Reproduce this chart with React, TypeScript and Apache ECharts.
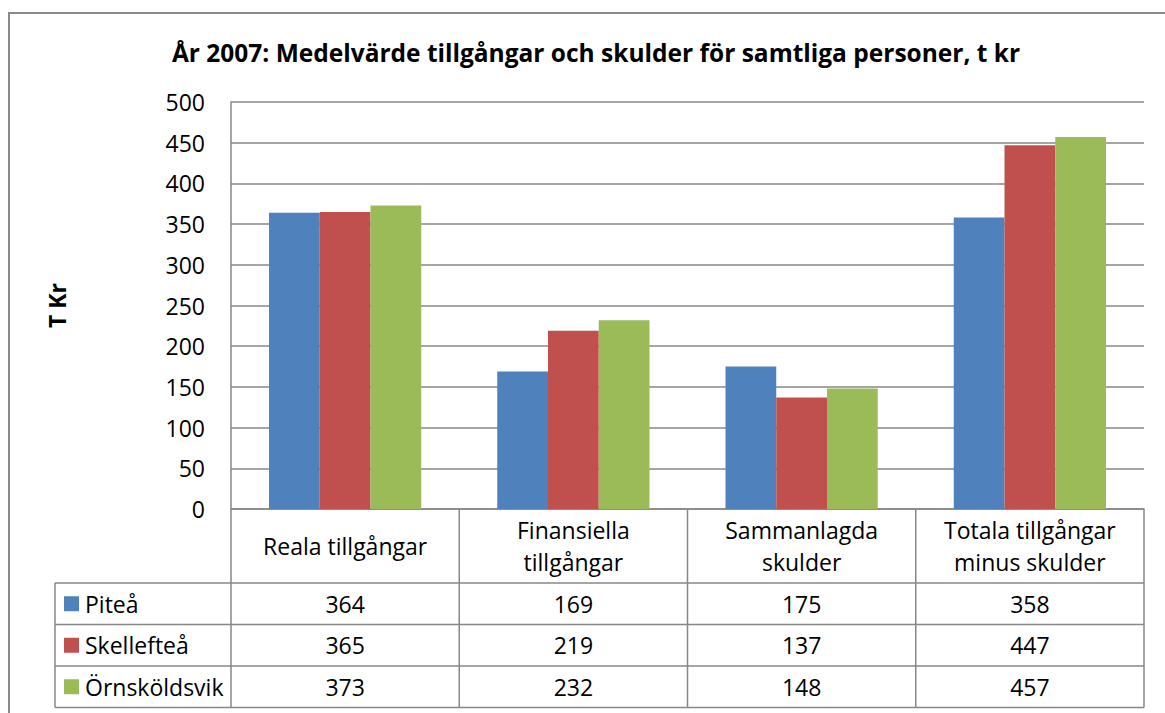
import React, { useEffect, useRef } from "react";
import * as echarts from "echarts";

const title = "År 2007: Medelvärde tillgångar och skulder för samtliga personer, t kr";
const yAxisName = "T Kr";
const categories = ["Reala tillgångar", "Finansiella\ntillgångar", "Sammanlagda\nskulder", "Totala tillgångar\nminus skulder"];
const seriesNames = ["Piteå", "Skellefteå", "Örnsköldsvik"];
const pitea = [364, 169, 175, 358];
const skelleftea = [365, 219, 137, 447];
const ornskoldsvik = [373, 232, 148, 457];
const colors = ["#4F81BD", "#C0504D", "#9BBB59"];

const FONT = "'Open Sans', 'Noto Sans', sans-serif";
const FS = 23;
const GRID_COLOR = "#878787";

export default function App() {
  const ref = useRef<HTMLDivElement>(null);
  useEffect(() => {
    if (!ref.current) return;
    const chart = echarts.init(ref.current, undefined, { renderer: "svg" });
    const GL = 231, GR = 1144, GT = 102, GB = 509;
    const tableLeft = 55;
    const rowLines = [583, 624.5, 666, 707.5];
    const colW = (GR - GL) / categories.length;
    const allSeries = [pitea, skelleftea, ornskoldsvik];

    const graphic: any[] = [];
    graphic.push({
      type: "rect",
      shape: { x: 9, y: 13, width: 1200, height: 800 },
      style: { fill: "none", stroke: "#8a8a8a", lineWidth: 2 },
      silent: true,
    });
    for (let i = 0; i <= categories.length; i++) {
      const x = GL + i * colW;
      graphic.push({
        type: "line",
        shape: { x1: x, y1: GB, x2: x, y2: rowLines[rowLines.length - 1] },
        style: { stroke: GRID_COLOR, lineWidth: 1.5 },
        silent: true,
      });
    }
    graphic.push({
      type: "line",
      shape: { x1: tableLeft, y1: rowLines[0], x2: tableLeft, y2: rowLines[rowLines.length - 1] },
      style: { stroke: GRID_COLOR, lineWidth: 1.5 },
      silent: true,
    });
    rowLines.forEach((y) => {
      graphic.push({
        type: "line",
        shape: { x1: tableLeft, y1: y, x2: GR, y2: y },
        style: { stroke: GRID_COLOR, lineWidth: 1.5 },
        silent: true,
      });
    });
    allSeries.forEach((vals, r) => {
      const cy = (rowLines[r] + rowLines[r + 1]) / 2;
      graphic.push({
        type: "rect",
        shape: { x: 64, y: cy - 7.5, width: 15, height: 15 },
        style: { fill: colors[r] },
        silent: true,
      });
      graphic.push({
        type: "text",
        x: 85,
        y: cy,
        style: { text: seriesNames[r], fontFamily: FONT, fontSize: FS, fill: "#000", verticalAlign: "middle", align: "left" },
        silent: true,
      });
      vals.forEach((v, c) => {
        graphic.push({
          type: "text",
          x: GL + (c + 0.5) * colW,
          y: cy,
          style: { text: String(v), fontFamily: FONT, fontSize: FS, fill: "#000", verticalAlign: "middle", align: "center" },
          silent: true,
        });
      });
    });

    chart.setOption({
      animation: false,
      backgroundColor: "#fff",
      title: {
        text: title,
        left: 591,
        textAlign: "center",
        top: 35,
        textStyle: { fontFamily: FONT, fontSize: 24.5, fontWeight: "bold", color: "#000" },
      },
      grid: { left: GL, right: 1165 - GR, top: GT, bottom: 713 - GB, containLabel: false },
      xAxis: {
        type: "category",
        data: categories,
        axisLine: { show: true, lineStyle: { color: GRID_COLOR, width: 1.5 } },
        axisTick: { show: false },
        axisLabel: {
          interval: 0,
          margin: 37,
          verticalAlign: "middle",
          fontFamily: FONT,
          fontSize: FS,
          lineHeight: 32,
          color: "#000",
        },
      },
      yAxis: {
        type: "value",
        min: 0,
        max: 500,
        interval: 50,
        name: yAxisName,
        nameLocation: "middle",
        nameRotate: 90,
        nameGap: 163,
        nameTextStyle: { fontFamily: FONT, fontSize: FS, fontWeight: "bold", color: "#000" },
        axisLine: { show: true, lineStyle: { color: GRID_COLOR, width: 1.5 } },
        axisTick: { show: false },
        axisLabel: { margin: 26, fontFamily: FONT, fontSize: FS, color: "#000" },
        splitLine: { show: true, lineStyle: { color: GRID_COLOR, width: 1.5 } },
      },
      series: allSeries.map((vals, i) => ({
        name: seriesNames[i],
        type: "bar",
        data: vals,
        barGap: "0%",
        barCategoryGap: "33.3%",
        itemStyle: { color: colors[i] },
      })),
      graphic,
    });
    return () => chart.dispose();
  }, []);
  return <div ref={ref} style={{ position: "fixed", left: 0, top: 0, width: 1165, height: 713 }} />;
}
